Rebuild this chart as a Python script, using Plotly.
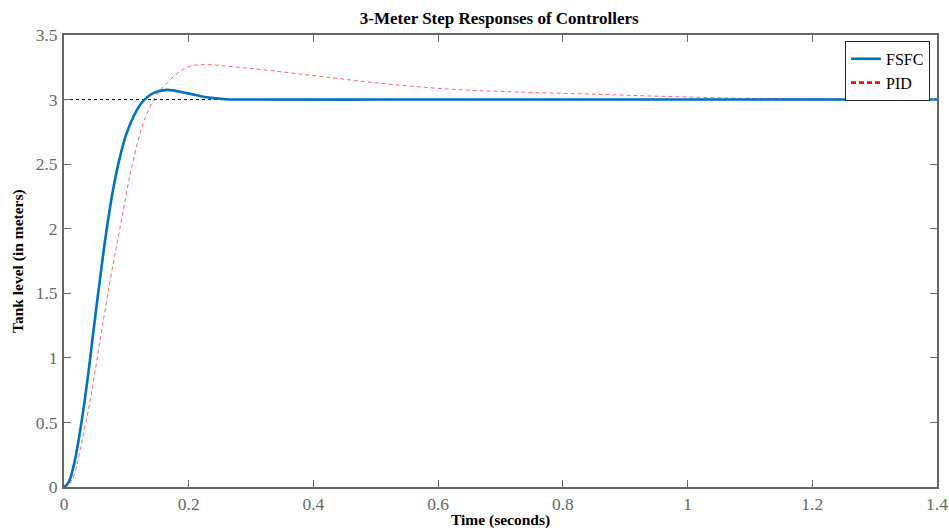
import plotly.graph_objects as go

# FSFC step response
fsfc_t = [0, 0.005, 0.0096, 0.0176, 0.028, 0.039, 0.047, 0.058, 0.068, 0.079, 0.09, 0.1005,
          0.117, 0.127, 0.143, 0.165, 0.197, 0.229, 0.26, 0.3, 0.5, 0.8, 1.1, 1.4]
fsfc_v = [0, 0.02, 0.06, 0.21, 0.5, 0.88, 1.2, 1.62, 1.98, 2.31, 2.56, 2.74,
          2.92, 2.99, 3.05, 3.075, 3.05, 3.018, 3.003, 3.0, 3.0, 3.0, 3.0, 3.0]

# PID step response
pid_t = [0, 0.0096, 0.018, 0.026, 0.042, 0.058, 0.074, 0.09, 0.106, 0.122, 0.132, 0.144, 0.154,
         0.181, 0.2, 0.218, 0.24, 0.27, 0.33, 0.41, 0.5, 0.62, 0.72, 0.86, 0.96, 1.07, 1.2, 1.3, 1.4]
pid_v = [0, 0.03, 0.12, 0.29, 0.67, 1.14, 1.6, 2.01, 2.42, 2.74, 2.88, 3.0, 3.07,
         3.2, 3.255, 3.27, 3.268, 3.255, 3.225, 3.18, 3.13, 3.08, 3.06, 3.04, 3.025, 3.012, 3.005, 3.002, 3.0]

ref_t = [0, 1.4]
ref_v = [3, 3]

x_ticks = [0, 0.2, 0.4, 0.6, 0.8, 1, 1.2, 1.4]
x_labels = ["0", "0.2", "0.4", "0.6", "0.8", "1", "1.2", "1.4"]
y_ticks = [0, 0.5, 1, 1.5, 2, 2.5, 3, 3.5]
y_labels = ["0", "0.5", "1", "1.5", "2", "2.5", "3", "3.5"]

serif = "Liberation Serif, Times New Roman, serif"

fig = go.Figure()
fig.add_trace(go.Scatter(x=ref_t, y=ref_v, mode="lines", showlegend=False,
                         line=dict(color="black", width=1, dash="dot")))
fig.add_trace(go.Scatter(x=pid_t, y=pid_v, mode="lines", showlegend=False, line_shape="spline",
                         line=dict(color="#ff0000", width=0.6, dash="4px,3px")))
fig.add_trace(go.Scatter(x=fsfc_t, y=fsfc_v, mode="lines", name="FSFC", line_shape="spline",
                         line=dict(color="#0072BD", width=2.6)))
fig.add_trace(go.Scatter(x=[None], y=[None], mode="lines", name="PID",
                         line=dict(color="#ff0000", width=2.6, dash="5px,3px")))

axis_common = dict(showline=True, linecolor="#666666", linewidth=2, mirror="ticks",
                   ticks="inside", ticklen=7, tickcolor="#666666", tickwidth=1,
                   showgrid=False, zeroline=False, automargin=False,
                   tickfont=dict(family=serif, size=17.5, color="#666666"))

fig.update_layout(
    width=949, height=528,
    paper_bgcolor="white", plot_bgcolor="white",
    margin=dict(l=64, r=12, t=35, b=41),
    title=dict(text="<b>3-Meter Step Responses of Controllers</b>", x=0.526, xanchor="center",
               y=1 - 18 / 528, yanchor="middle", font=dict(family=serif, size=17, color="black")),
    xaxis=dict(range=[0, 1.4], tickvals=x_ticks, ticktext=x_labels, ticklabelstandoff=0,
               **axis_common),
    yaxis=dict(range=[0, 3.5], tickvals=y_ticks, ticktext=y_labels, ticklabelstandoff=1,
               **axis_common),
    legend=dict(x=0.992, y=0.987, xanchor="right", yanchor="top",
                bgcolor="white", bordercolor="#222222", borderwidth=1,
                font=dict(family=serif, size=16, color="black"),
                tracegroupgap=0, itemwidth=30),
    showlegend=True,
    annotations=[
        dict(text="<b>Time (seconds)</b>", xref="paper", yref="paper", x=0.5, y=-0.073,
             xanchor="center", yanchor="middle", showarrow=False,
             font=dict(family=serif, size=15.5, color="black")),
        dict(text="<b>Tank level (in meters)</b>", xref="paper", yref="paper", x=-0.0527, y=0.5,
             xanchor="center", yanchor="middle", showarrow=False, textangle=-90,
             font=dict(family=serif, size=15.5, color="black")),
    ],
)

# remove the browser's default page margin so the figure fills the window exactly
fig.write_html("out.html", config={"displayModeBar": False},
               post_script="document.body.style.margin='0';")
